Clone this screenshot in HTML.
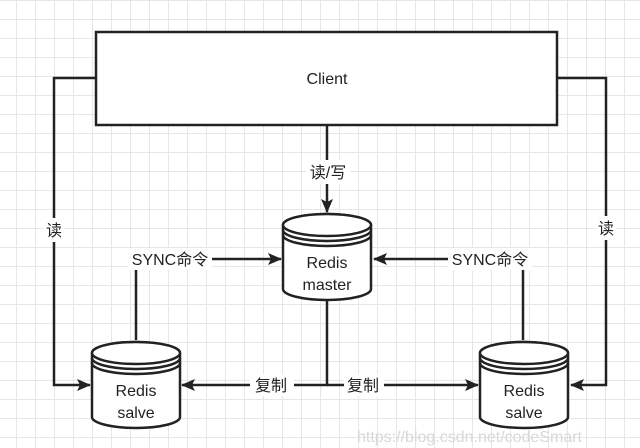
<!DOCTYPE html>
<html><head><meta charset="utf-8"><style>
html,body{margin:0;padding:0;background:#fff}
svg{display:block}
text{font-family:"Liberation Sans","Noto Sans CJK SC",sans-serif;font-size:16px;fill:#222}
</style></head><body>
<svg width="640" height="448" viewBox="0 0 640 448" xmlns="http://www.w3.org/2000/svg">
<defs>
<pattern id="g" x="-3" y="0" width="19" height="19" patternUnits="userSpaceOnUse">
<path d="M0 0.5H19M0.5 0V19" stroke="#e6e6e6" stroke-width="1" fill="none"/>
</pattern>
<marker id="a" markerWidth="14" markerHeight="12" refX="13" refY="6" orient="auto" markerUnits="userSpaceOnUse">
<path d="M0 0L14 6L0 12L3 6Z" fill="#222"/>
</marker>
</defs>
<rect width="640" height="448" fill="url(#g)"/>
<g stroke="#222" stroke-width="2.5" fill="none">
<rect x="96" y="32" width="461" height="93" fill="#fff"/>
<path d="M96 78H54V385H90" marker-end="url(#a)"/>
<path d="M557 78H606V385H571" marker-end="url(#a)"/>
<path d="M327 125V212" marker-end="url(#a)"/>
<path d="M136 340V259H281" marker-end="url(#a)"/>
<path d="M523 340V259H374" marker-end="url(#a)"/>
<path d="M327 300V385H182" marker-end="url(#a)"/>
<path d="M327 385H478" marker-end="url(#a)"/>
</g>
<g stroke="#222" stroke-width="2.5" fill="#fff">
<g>
<path d="M283 225A44 11 0 0 1 371 225V289A44 11 0 0 1 283 289Z"/>
<ellipse cx="327" cy="225" rx="44" ry="11"/>
<path d="M283 230A44 11 0 0 0 371 230M283 235A44 11 0 0 0 371 235" fill="none"/>
</g>
<g>
<path d="M92 353A44 11 0 0 1 180 353V417A44 11 0 0 1 92 417Z"/>
<ellipse cx="136" cy="353" rx="44" ry="11"/>
<path d="M92 358A44 11 0 0 0 180 358M92 363A44 11 0 0 0 180 363" fill="none"/>
</g>
<g>
<path d="M480 353A44 11 0 0 1 568 353V417A44 11 0 0 1 480 417Z"/>
<ellipse cx="524" cy="353" rx="44" ry="11"/>
<path d="M480 358A44 11 0 0 0 568 358M480 363A44 11 0 0 0 568 363" fill="none"/>
</g>
</g>
<g fill="#fff">
<rect x="306" y="160" width="44" height="24"/>
<rect x="44" y="218" width="20" height="24"/>
<rect x="596" y="216" width="20" height="24"/>
<rect x="128" y="248" width="84" height="22"/>
<rect x="448" y="248" width="84" height="22"/>
<rect x="250" y="374" width="44" height="22"/>
<rect x="344" y="374" width="40" height="22"/>
</g>
<text x="328" y="178" text-anchor="middle">读/写</text>
<text x="54" y="236" text-anchor="middle">读</text>
<text x="606" y="234" text-anchor="middle">读</text>
<text x="170" y="265" text-anchor="middle">SYNC命令</text>
<text x="490" y="265" text-anchor="middle">SYNC命令</text>
<text x="271" y="391" text-anchor="middle">复制</text>
<text x="363" y="391" text-anchor="middle">复制</text>
<text x="327" y="84" text-anchor="middle">Client</text>
<text x="327" y="268" text-anchor="middle">Redis</text>
<text x="327" y="290" text-anchor="middle">master</text>
<text x="136" y="396" text-anchor="middle">Redis</text>
<text x="136" y="418" text-anchor="middle">salve</text>
<text x="524" y="396" text-anchor="middle">Redis</text>
<text x="524" y="418" text-anchor="middle">salve</text>
<text x="582" y="442" text-anchor="end" font-size="11" style="fill:#d8d8d8">https://blog.csdn.net/codeSmart</text>
</svg>
</body></html>
